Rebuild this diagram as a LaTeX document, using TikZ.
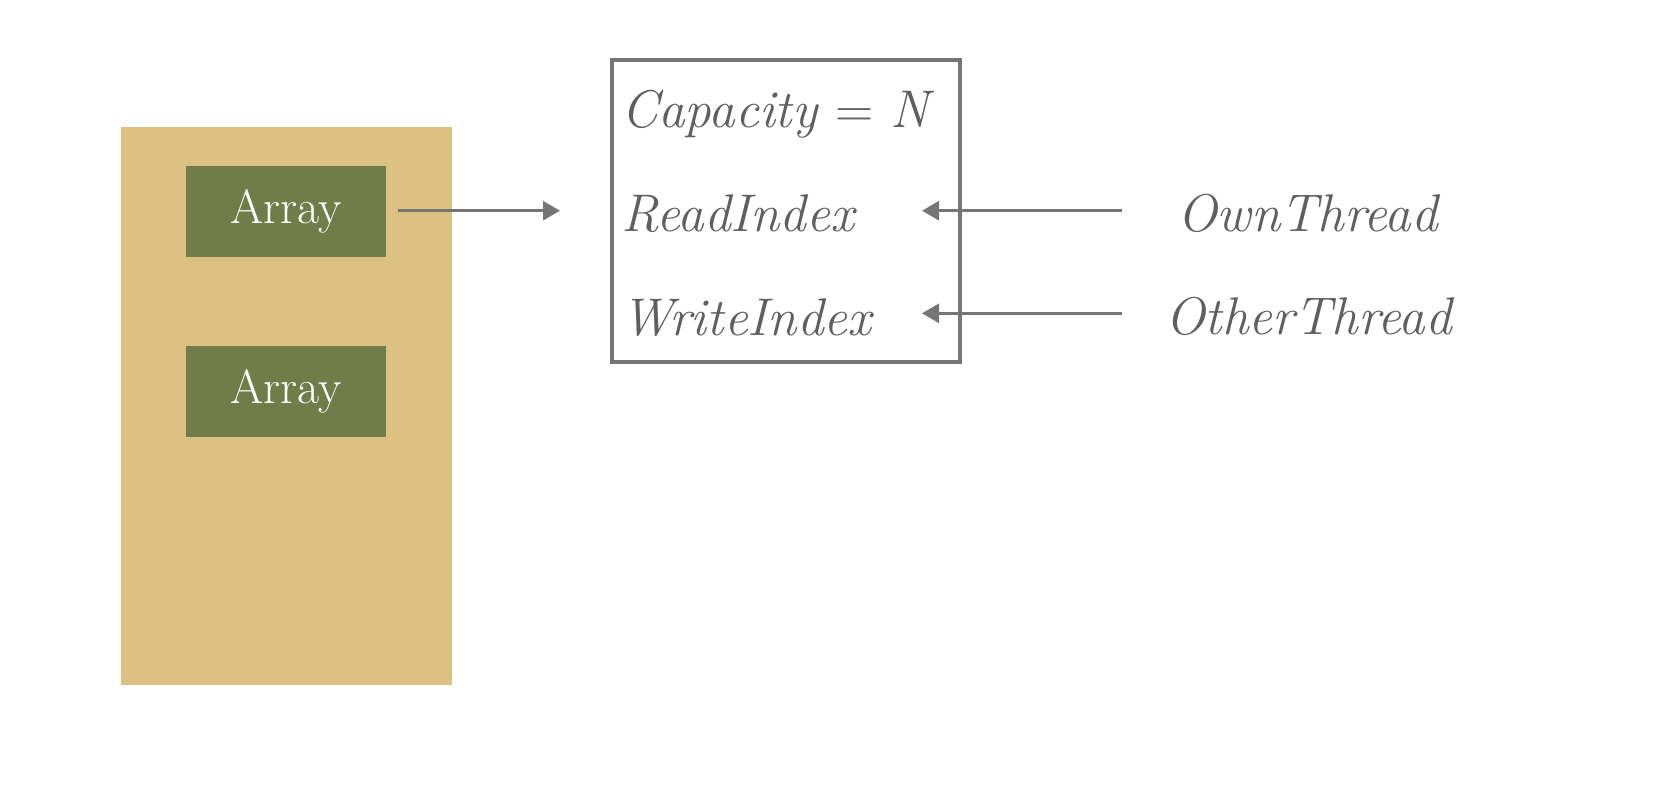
\documentclass[tikz,border=0pt]{standalone}
\usetikzlibrary{arrows.meta}
\definecolor{tan}{HTML}{DCC182}
\definecolor{olive}{HTML}{707D48}
\definecolor{linegray}{HTML}{757575}
\definecolor{textgray}{HTML}{5F5F5F}
\tikzset{
  arraybox/.style={fill=olive, text=white, minimum width=200pt, minimum height=91pt, inner sep=0pt, font=\fontsize{48}{52}\selectfont},
  itlabel/.style={text=textgray, inner sep=0pt, font=\fontsize{53}{60}\selectfont\itshape},
  conn/.style={draw=linegray, line width=3pt, -{Triangle[length=17pt,width=19pt]}},
}
\begin{document}
\begin{tikzpicture}[x=1pt,y=-1pt]
\useasboundingbox (0,0) rectangle (1658,796);
\fill[tan] (121,127) rectangle (451.5,685);
\node[arraybox] (a1) at (286,211) {Array};
\node[arraybox] (a2) at (286,391) {Array};
\node[draw=linegray, line width=4pt, minimum width=348pt, minimum height=302pt, inner sep=0pt] (box) at (786.4,211.2) {};
\node[itlabel, anchor=base west] (cap) at (621,127) {Capacity \upshape{=} \itshape N};
\node[itlabel, anchor=base west] (read) at (621,231.5) {ReadIndex};
\node[itlabel, anchor=base west] (write) at (621,335) {WriteIndex};
\node[itlabel, anchor=base west] (own) at (1177,231.5) {OwnThread};
\node[itlabel, anchor=base west] (other) at (1165,334) {OtherThread};
\coordinate (tipA) at (560,210.7);
\coordinate (startOwn) at (1122,210.7);
\coordinate (tipOwn) at (922,210.7);
\coordinate (startOther) at (1122,313.3);
\coordinate (tipOther) at (922,313.3);
\draw[conn] (a1.east |- tipA) ++(12,0) -- (tipA);
\draw[conn] (startOwn) -- (tipOwn);
\draw[conn] (startOther) -- (tipOther);
\end{tikzpicture}
\end{document}
